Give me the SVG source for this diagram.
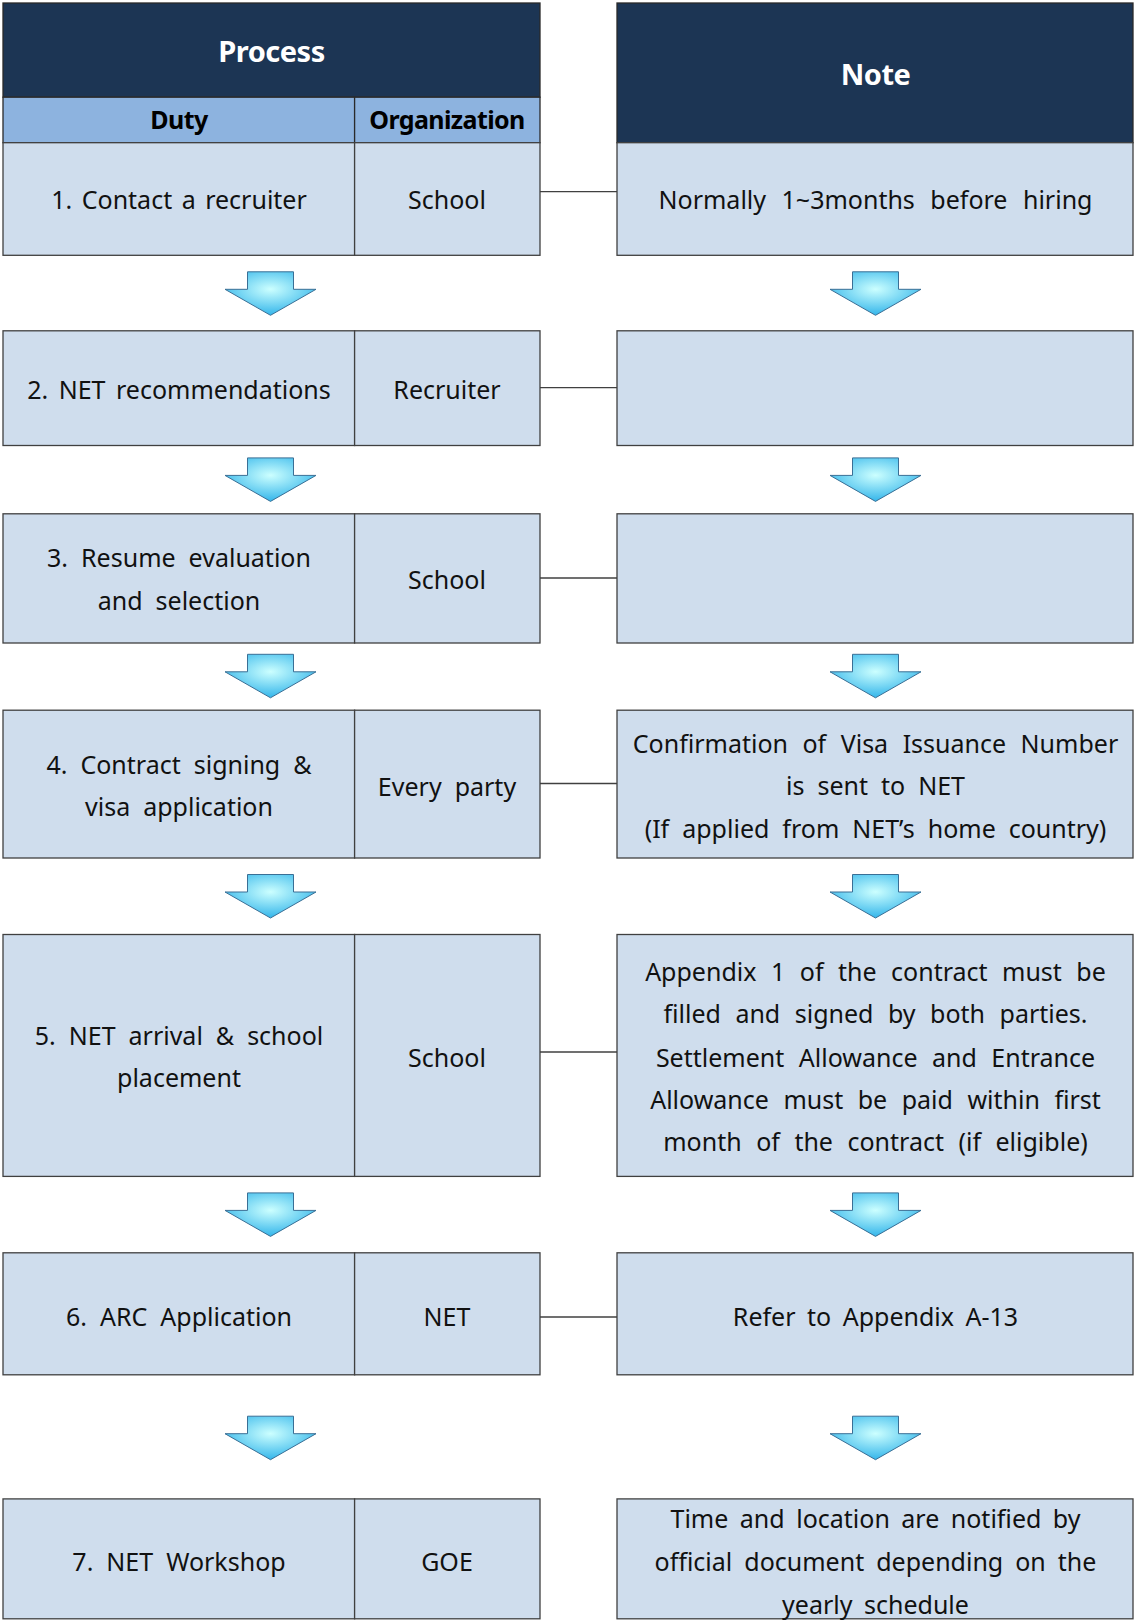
<svg xmlns="http://www.w3.org/2000/svg" width="1135" height="1621" viewBox="0 0 1135 1621">
<style>
.hd{fill:#1c3554;stroke:#2a2a2a;stroke-width:1.3}
.sub{fill:#8db3df;stroke:#2a2a2a;stroke-width:1.3}
.cell{fill:#cfdded;stroke:#404040;stroke-width:1.3}
.t{font-family:"Noto Sans","Open Sans",sans-serif;font-size:25px;fill:#111;text-anchor:middle;word-spacing:6.5px}
.ht{font-family:"Noto Sans","Open Sans",sans-serif;font-size:29px;font-weight:bold;fill:#fff;text-anchor:middle;letter-spacing:-0.5px}
.st{font-family:"Noto Sans","Open Sans",sans-serif;font-size:25px;font-weight:bold;fill:#000;text-anchor:middle;letter-spacing:-0.6px}
.arr{fill:url(#ag);stroke:#3a6f95;stroke-width:1}
.con{stroke:#404040;stroke-width:1.3;fill:none}
</style>
<defs>
<radialGradient id="ag" cx="0.5" cy="0.4" r="0.6">
<stop offset="0" stop-color="#ccffff"/>
<stop offset="1" stop-color="#33b5ea"/>
</radialGradient>
<path id="arrow" d="M-23,0 H23 V17.5 H45.5 L0,43.5 L-45.5,17.5 H-23 Z"/>
</defs>

<g id="header-process">
<rect class="hd" x="3" y="3" width="537" height="94.2"/>
<text class="ht" x="271.5" y="62">Process</text>
</g>
<g id="header-duty">
<rect class="sub" x="3" y="97.2" width="351.6" height="45.5"/>
<text class="st" x="179" y="129">Duty</text>
</g>
<g id="header-organization">
<rect class="sub" x="354.6" y="97.2" width="185.4" height="45.5"/>
<text class="st" x="447" y="129">Organization</text>
</g>
<g id="header-note">
<rect class="hd" x="617" y="3" width="516" height="139.7"/>
<text class="ht" x="875.5" y="85">Note</text>
</g>

<g id="connectors">
<line class="con" x1="540" y1="191.7" x2="617" y2="191.7"/>
<line class="con" x1="540" y1="387.6" x2="617" y2="387.6"/>
<line class="con" x1="540" y1="578" x2="617" y2="578"/>
<line class="con" x1="540" y1="783.5" x2="617" y2="783.5"/>
<line class="con" x1="540" y1="1052" x2="617" y2="1052"/>
<line class="con" x1="540" y1="1317" x2="617" y2="1317"/>
</g>

<g id="row1">
<rect class="cell" x="3" y="142.7" width="351.6" height="112.6"/>
<rect class="cell" x="354.6" y="142.7" width="185.4" height="112.6"/>
<text class="t" x="179" y="208.5" style="word-spacing:3px">1. Contact a recruiter</text>
<text class="t" x="447" y="208.5">School</text>
</g>
<g id="note1">
<rect class="cell" x="617" y="142.7" width="516" height="112.6"/>
<text class="t" x="875.5" y="208.5" style="word-spacing:9px">Normally 1~3months before hiring</text>
</g>

<g id="row2">
<rect class="cell" x="3" y="330.8" width="351.6" height="114.7"/>
<rect class="cell" x="354.6" y="330.8" width="185.4" height="114.7"/>
<text class="t" x="179" y="398.5" style="word-spacing:4px">2. NET recommendations</text>
<text class="t" x="447" y="398.5">Recruiter</text>
</g>
<g id="note2">
<rect class="cell" x="617" y="330.8" width="516" height="114.7"/>
</g>

<g id="row3">
<rect class="cell" x="3" y="513.8" width="351.6" height="129.2"/>
<rect class="cell" x="354.6" y="513.8" width="185.4" height="129.2"/>
<text class="t" x="179" y="567.2">3. Resume evaluation</text>
<text class="t" x="179" y="609.6">and selection</text>
<text class="t" x="447" y="589">School</text>
</g>
<g id="note3">
<rect class="cell" x="617" y="513.8" width="516" height="129.2"/>
</g>

<g id="row4">
<rect class="cell" x="3" y="710.2" width="351.6" height="147.8"/>
<rect class="cell" x="354.6" y="710.2" width="185.4" height="147.8"/>
<text class="t" x="179" y="774">4. Contract signing &amp;</text>
<text class="t" x="179" y="816.3">visa application</text>
<text class="t" x="447" y="795.6">Every party</text>
</g>
<g id="note4">
<rect class="cell" x="617" y="710.2" width="516" height="147.8"/>
<text class="t" x="875.5" y="753.3" style="word-spacing:8px">Confirmation of Visa Issuance Number</text>
<text class="t" x="875.5" y="794.6">is sent to NET</text>
<text class="t" x="875.5" y="838">(If applied from NET’s home country)</text>
</g>

<g id="row5">
<rect class="cell" x="3" y="934.5" width="351.6" height="241.9"/>
<rect class="cell" x="354.6" y="934.5" width="185.4" height="241.9"/>
<text class="t" x="179" y="1044.8">5. NET arrival &amp; school</text>
<text class="t" x="179" y="1087.1">placement</text>
<text class="t" x="447" y="1066.5">School</text>
</g>
<g id="note5">
<rect class="cell" x="617" y="934.5" width="516" height="241.9"/>
<text class="t" x="875.5" y="980.7" style="word-spacing:8px">Appendix 1 of the contract must be</text>
<text class="t" x="875.5" y="1023" style="word-spacing:8px">filled and signed by both parties.</text>
<text class="t" x="875.5" y="1066.5" style="word-spacing:8px">Settlement Allowance and Entrance</text>
<text class="t" x="875.5" y="1108.9" style="word-spacing:8px">Allowance must be paid within first</text>
<text class="t" x="875.5" y="1151.2" style="word-spacing:8px">month of the contract (if eligible)</text>
</g>

<g id="row6">
<rect class="cell" x="3" y="1252.8" width="351.6" height="122"/>
<rect class="cell" x="354.6" y="1252.8" width="185.4" height="122"/>
<text class="t" x="179" y="1326">6. ARC Application</text>
<text class="t" x="447" y="1326">NET</text>
</g>
<g id="note6">
<rect class="cell" x="617" y="1252.8" width="516" height="122"/>
<text class="t" x="875.5" y="1326" style="word-spacing:5px">Refer to Appendix A-13</text>
</g>

<g id="row7">
<rect class="cell" x="3" y="1498.9" width="351.6" height="119.9"/>
<rect class="cell" x="354.6" y="1498.9" width="185.4" height="119.9"/>
<text class="t" x="179" y="1570.9">7. NET Workshop</text>
<text class="t" x="447" y="1570.9">GOE</text>
</g>
<g id="note7">
<rect class="cell" x="617" y="1498.9" width="516" height="119.9"/>
<text class="t" x="875.5" y="1527.5" style="word-spacing:5px">Time and location are notified by</text>
<text class="t" x="875.5" y="1570.9" style="word-spacing:5.5px">official document depending on the</text>
<text class="t" x="875.5" y="1614.3" style="word-spacing:5px">yearly schedule</text>
</g>

<g id="arrows">
<use href="#arrow" class="arr" x="270.5" y="271.8"/>
<use href="#arrow" class="arr" x="875.5" y="271.8"/>
<use href="#arrow" class="arr" x="270.5" y="457.9"/>
<use href="#arrow" class="arr" x="875.5" y="457.9"/>
<use href="#arrow" class="arr" x="270.5" y="654.3"/>
<use href="#arrow" class="arr" x="875.5" y="654.3"/>
<use href="#arrow" class="arr" x="270.5" y="874.5"/>
<use href="#arrow" class="arr" x="875.5" y="874.5"/>
<use href="#arrow" class="arr" x="270.5" y="1192.9"/>
<use href="#arrow" class="arr" x="875.5" y="1192.9"/>
<use href="#arrow" class="arr" x="270.5" y="1416.2"/>
<use href="#arrow" class="arr" x="875.5" y="1416.2"/>
</g>
</svg>
